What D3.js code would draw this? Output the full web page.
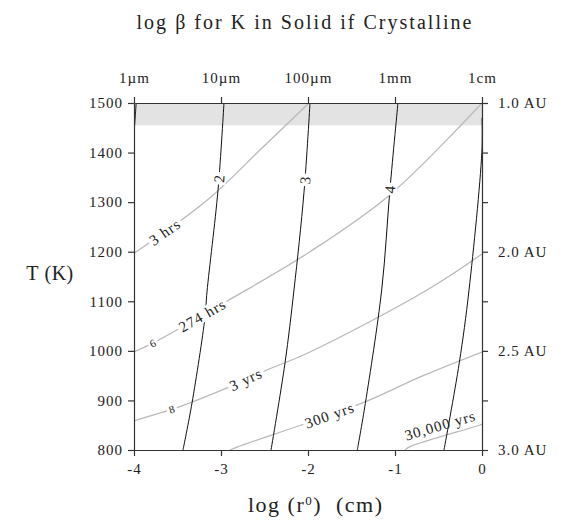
<!DOCTYPE html>
<html lang="en">
<head>
<meta charset="UTF-8">
<title>log β for K in Solid if Crystalline</title>
<script src="https://d3js.org/d3.v7.min.js"></script>
<style>
  body { margin: 0; background: #fff; }
  svg text { font-family: "Liberation Serif", "Times New Roman", serif; fill: #222; }
  .axis path, .axis line { stroke: #333; stroke-width: 1.2; }
  .beta { fill: none; stroke: #111; stroke-width: 1; }
  .time { fill: none; stroke: #b9b9b9; stroke-width: 1.3; }
  .lbl { font-size: 15px; letter-spacing: 1px; }
  .lbl-small { font-size: 11px; }
</style>
</head>
<body>
<script>
// ticks
const xTicks = [-4, -3, -2, -1, 0];
const sizeLabels = ["1\u00b5m", "10\u00b5m", "100\u00b5m", "1mm", "1cm"];
const tTicks = [800, 900, 1000, 1100, 1200, 1300, 1400, 1500];
const auTicks = [1500, 1200, 1000, 800];
const auLabels = ["1.0 AU", "2.0 AU", "2.5 AU", "3.0 AU"];
const shadeFrom = 1455;   // grey band up to 1500 K

// log beta contours, [log r, T]
const beta1 = [[-3.975, 1500], [-3.985, 1475], [-3.995, 1450]];
const beta2 = [[-2.966, 1500], [-3.034, 1325], [-3.161, 1119], [-3.184, 1068], [-3.333, 895], [-3.437, 800]];
const beta3 = [[-1.977, 1500], [-2.046, 1320], [-2.161, 1123], [-2.264, 976], [-2.425, 800]];
const beta4 = [[-0.966, 1500], [-1.057, 1328], [-1.153, 1123], [-1.341, 894], [-1.433, 800]];
const beta5 = [[0, 1470], [-0.002, 1400], [-0.149, 1123], [-0.261, 976], [-0.437, 800]];
const betaLabels = [[null, 0], ["2", 1348], ["3", 1345], ["4", 1326], [null, 0]];

// time contours, [log r, T]
const time3h = [[-4, 1197], [-3.5, 1258], [-3.092, 1314], [-2.552, 1405], [-1.989, 1500]];
const time274h = [[-4, 998], [-3.78, 1016], [-2.934, 1100], [-1.977, 1200], [-1.057, 1315], [0, 1500]];
const time3y = [[-4, 858.5], [-3.667, 876.6], [-3.471, 887.7], [-2.931, 925.3], [-2.529, 957.3], [-1.977, 997.7], [-0.632, 1122.7], [0, 1195.4]];
const time300y = [[-2.897, 800], [-2.816, 806], [-1.977, 856.5], [-1.345, 897], [-0.69, 949], [0, 997.7]];
const time30ky = [[-0.885, 800], [-0.828, 806.7], [-0.023, 850.4], [0, 852.4]];
// [text, log r, small, offset]
const timeLabels = [
  [["3 hrs", -3.644, false]],
  [["274 hrs", -3.215, false], ["6", -3.785, true]],
  [["3 yrs", -2.716, false], ["8", -3.567, true]],
  [["300 yrs", -1.755, false]],
  [["30,000 yrs", -0.445, false, -11]]
];

const W = 561, H = 520;
const margin = { top: 103, right: 79, bottom: 70, left: 134 };
const width = W - margin.left - margin.right,
      height = H - margin.top - margin.bottom;

const svg = d3.select("body").append("svg")
  .attr("width", W).attr("height", H);

svg.append("defs").append("clipPath").attr("id", "plot")
  .append("rect").attr("width", width).attr("height", height);

const g = svg.append("g").attr("transform", `translate(${margin.left},${margin.top})`);

const x = d3.scaleLinear().domain([-4, 0]).range([0, width]);
const y = d3.scaleLinear().domain([800, 1500]).range([height, 0]);

const line = d3.line()
  .x(d => x(d[0])).y(d => y(d[1]))
  .curve(d3.curveCatmullRom.alpha(0.5));

const plot = g.append("g").attr("clip-path", "url(#plot)");

plot.append("rect")
  .attr("x", 0).attr("y", y(1500))
  .attr("width", width).attr("height", y(shadeFrom) - y(1500))
  .attr("fill", "#e3e3e3");

const timeSeries = [time3h, time274h, time3y, time300y, time30ky];
const betaSeries = [beta1, beta2, beta3, beta4, beta5];

const timePaths = plot.selectAll(".time").data(timeSeries).join("path")
  .attr("class", "time").attr("d", line);
const betaPaths = plot.selectAll(".beta").data(betaSeries).join("path")
  .attr("class", "beta").attr("d", line);

// put a label on a path, knocking out the line behind it
function pathLabel(node, match, text, cls, upright, offset) {
  const L = node.getTotalLength();
  let best = 0, bestD = Infinity;
  for (let l = 0; l <= L; l += 0.5) {
    const p = node.getPointAtLength(l);
    const d = match(p);
    if (d < bestD) { bestD = d; best = l; }
  }
  const p = node.getPointAtLength(best);
  const a = node.getPointAtLength(Math.max(0, best - 3));
  const b = node.getPointAtLength(Math.min(L, best + 3));
  let ang = Math.atan2(b.y - a.y, b.x - a.x) * 180 / Math.PI;
  if (upright) { if (ang > 0) ang -= 180; }
  else { if (ang > 90) ang -= 180; if (ang < -90) ang += 180; }
  const lg = g.append("g").attr("transform", `translate(${p.x},${p.y}) rotate(${ang})`);
  const bg = lg.append("rect").attr("fill", "#fff");
  const t = lg.append("text").attr("class", cls)
    .attr("text-anchor", "middle").attr("dy", "0.35em")
    .attr("y", offset || 0).text(text);
  if (!offset) {
    const bb = t.node().getBBox();
    bg.attr("x", bb.x - 2).attr("y", -bb.height / 2 + 1)
      .attr("width", bb.width + 4).attr("height", bb.height - 2);
  } else bg.remove();
}

betaPaths.each(function(d, i) {
  const [txt, T] = betaLabels[i];
  if (!txt) return;
  pathLabel(this, p => Math.abs(p.y - y(T)), txt, "lbl", true, 0);
});

timePaths.each(function(d, i) {
  timeLabels[i].forEach(([txt, lr, small, off]) => {
    pathLabel(this, p => Math.abs(p.x - x(lr)), txt, small ? "lbl-small" : "lbl", false, off);
  });
});

// axes
function styleAxis(sel) {
  sel.attr("class", "axis")
    .attr("font-family", null).attr("font-size", null);
  sel.selectAll("text")
    .style("font-family", "'Liberation Serif', serif")
    .style("font-size", "15px")
    .style("letter-spacing", "1px")
    .style("fill", "#222");
}

g.append("g")
  .call(d3.axisLeft(y).tickValues(tTicks).tickSize(6).tickPadding(5).tickSizeOuter(0).tickFormat(d3.format("d")))
  .call(styleAxis);

g.append("g")
  .attr("transform", `translate(0,${height})`)
  .call(d3.axisBottom(x).tickValues(xTicks).tickSize(6).tickPadding(7).tickSizeOuter(0).tickFormat(d => String(d)))
  .call(styleAxis);

g.append("g")
  .call(d3.axisTop(x).tickValues(xTicks).tickSize(6).tickPadding(14).tickSizeOuter(0)
    .tickFormat((d, i) => sizeLabels[i]))
  .call(styleAxis);

g.append("g")
  .attr("transform", `translate(${width},0)`)
  .call(d3.axisRight(y).tickValues(tTicks).tickSize(6).tickPadding(10).tickSizeOuter(0)
    .tickFormat(d => { const k = auTicks.indexOf(d); return k < 0 ? "" : auLabels[k]; }))
  .call(styleAxis);

// titles
svg.append("text")
  .attr("x", 304).attr("y", 29)
  .attr("text-anchor", "middle")
  .attr("textLength", 335).attr("lengthAdjust", "spacing")
  .style("font-size", "20px")
  .text("log \u03b2 for K in Solid if Crystalline");

const xt = svg.append("text")
  .attr("x", 315).attr("y", 512)
  .attr("text-anchor", "middle")
  .attr("textLength", 134).attr("lengthAdjust", "spacing")
  .style("font-size", "22px");
xt.append("tspan").text("log (r");
xt.append("tspan").attr("dy", -7).style("font-size", "13px").text("0");
xt.append("tspan").attr("dy", 7).text(")\u00a0\u00a0(cm)");

svg.append("text")
  .attr("x", 50).attr("y", 280)
  .attr("text-anchor", "middle")
  .style("font-size", "20px")
  .style("letter-spacing", "0.5px")
  .text("T\u00a0(K)");
</script>
</body>
</html>
